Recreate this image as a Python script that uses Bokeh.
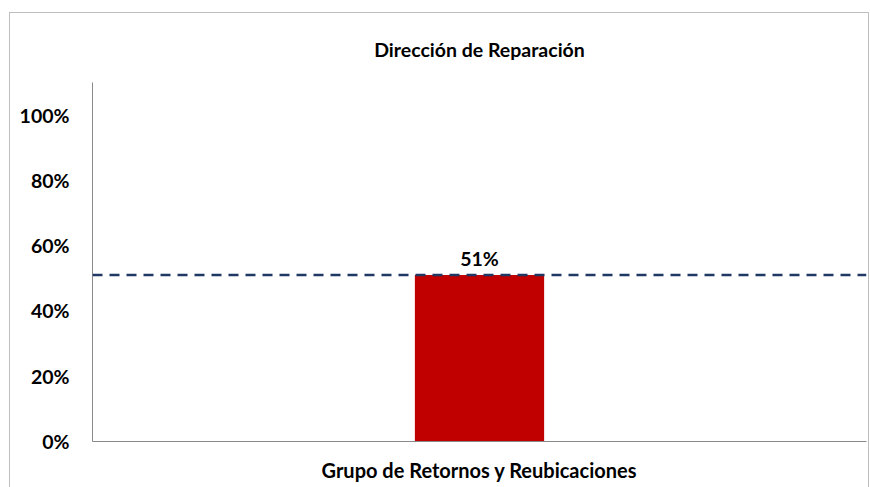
from bokeh.plotting import figure
from bokeh.models import ColumnDataSource, Span, FixedTicker, NumeralTickFormatter, LabelSet
from bokeh.core.properties import value
from bokeh.embed import file_html
from bokeh.resources import INLINE

# Data
categories = ["Grupo de Retornos y Reubicaciones"]
values = [0.51]
value_labels = ["51%"]
target = 0.51
y_ticks = [0, 0.2, 0.4, 0.6, 0.8, 1.0]
title_text = "Dirección de Reparación"

FONT = "Lato"

source = ColumnDataSource(data=dict(cat=categories, val=values, lab=value_labels))

p = figure(
    x_range=categories,
    y_range=(0, 1.1),
    width=860,
    height=475,
    output_backend="svg",
    toolbar_location=None,
    min_border_left=82,
    min_border_right=4,
    min_border_top=68,
    min_border_bottom=47,
)
p.margin = (12, 0, 0, 9)
p.styles = {"border-top": "1px solid #bfbfbf", "border-left": "1px solid #bfbfbf",
            "border-right": "1px solid #bfbfbf", "box-sizing": "border-box"}

p.title.text = title_text
p.title.align = "center"
p.title.text_font = FONT
p.title.text_font_size = "19.5px"
p.title.text_font_style = "bold"
p.title.text_color = "#000000"
p.title.standoff = 44

p.vbar(x="cat", top="val", width=0.167, source=source, color="#C00000", line_color=None)

p.add_layout(Span(location=target, dimension="width", line_color="#1F3864",
                  line_width=2.5, line_dash="10 7"))

labels = LabelSet(x="cat", y="val", text="lab", source=source, text_align="center",
                  text_baseline="bottom", y_offset=5, text_font=value(FONT),
                  text_font_size=value("19.5px"), text_font_style="bold", text_color="#000000")
p.add_layout(labels)

p.xgrid.visible = False
p.ygrid.visible = False
p.outline_line_color = None
p.background_fill_color = "white"
p.border_fill_color = "white"

p.yaxis.ticker = FixedTicker(ticks=y_ticks)
p.yaxis.formatter = NumeralTickFormatter(format="0%")
p.yaxis.major_tick_line_color = None
p.yaxis.minor_tick_line_color = None
p.yaxis.axis_line_color = "#898989"
p.yaxis.major_label_text_font = FONT
p.yaxis.major_label_text_font_size = "19.5px"
p.yaxis.major_label_text_font_style = "bold"
p.yaxis.major_label_text_color = "#000000"
p.yaxis.major_label_standoff = 17

p.xaxis.major_tick_line_color = None
p.xaxis.minor_tick_line_color = None
p.xaxis.axis_line_color = "#898989"
p.xaxis.major_label_text_font = FONT
p.xaxis.major_label_text_font_size = "20px"
p.xaxis.major_label_text_font_style = "bold"
p.xaxis.major_label_text_color = "#000000"
p.xaxis.major_label_standoff = 10

open("out.html", "w").write(file_html(p, INLINE))
